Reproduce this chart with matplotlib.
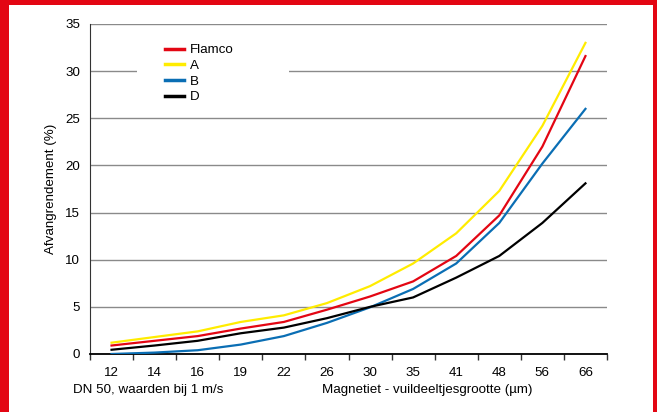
import numpy as np
import matplotlib.pyplot as plt
from matplotlib.patches import Rectangle

plt.rcParams['font.family'] = ['Liberation Sans', 'DejaVu Sans']

# data
sizes = ["12", "14", "16", "19", "22", "26", "30", "35", "41", "48", "56", "66"]
flamco = [0.9, 1.4, 1.9, 2.7, 3.4, 4.7, 6.1, 7.7, 10.4, 14.7, 22.0, 31.6]
serie_a = [1.2, 1.8, 2.4, 3.4, 4.1, 5.4, 7.2, 9.6, 12.8, 17.3, 24.2, 33.0]
serie_b = [0.0, 0.15, 0.4, 1.0, 1.9, 3.3, 4.95, 6.9, 9.6, 13.9, 20.2, 26.0]
serie_d = [0.45, 0.9, 1.4, 2.2, 2.8, 3.8, 5.0, 6.0, 8.1, 10.4, 13.9, 18.1]

fs = 9.6
W, H = 657, 412
fig = plt.figure(figsize=(W/100, H/100), dpi=100)
fig.patch.set_facecolor('#e30613')
# white panel inside red border
fig.patches.append(Rectangle((9/W, 0), (653-9)/W, (H-5)/H, transform=fig.transFigure,
                             facecolor='white', edgecolor='none', zorder=-1))

ax = fig.add_axes([90/W, (H-354)/H, (607-90)/W, (354-24)/H])
ax.set_facecolor('none')
ax.set_zorder(2)

x = np.arange(len(sizes))
ax.plot(x, flamco, color='#e30613', lw=1.6, label='Flamco', zorder=3)
ax.plot(x, serie_a, color='#ffec00', lw=1.6, label='A', zorder=3)
ax.plot(x, serie_b, color='#0a6eb4', lw=1.6, label='B', zorder=3)
ax.plot(x, serie_d, color='black', lw=1.6, label='D', zorder=3)

ax.set_xlim(-0.5, len(sizes) - 0.5)
ax.set_ylim(0, 35)
ax.set_yticks(np.arange(0, 36, 5))
ax.yaxis.grid(True, color='#8a8a8a', lw=1)
ax.set_axisbelow(True)

# white block behind the legend that breaks the 30 gridline
ax.add_patch(Rectangle(((137-90)/517, (354-106)/330), (289-137)/517, (106-38)/330,
                       transform=ax.transAxes, facecolor='white', edgecolor='none', zorder=1.5))

ax.set_xticks(x)
ax.set_xticklabels(sizes)
ax.set_xticks(np.arange(-0.5, len(sizes), 1), minor=True)
ax.tick_params(axis='x', which='major', length=0, pad=9, labelsize=fs)
ax.tick_params(axis='x', which='minor', length=4, width=1, color='#333333')
ax.tick_params(axis='y', length=0, pad=7, labelsize=fs)

for s in ['top', 'right']:
    ax.spines[s].set_visible(False)
ax.spines['left'].set_color('#333333')
ax.spines['bottom'].set_color('black')
ax.spines['bottom'].set_linewidth(1.3)

ax.set_ylabel("Afvangrendement (%)", fontsize=fs, labelpad=6)

leg = ax.legend(loc='upper left', bbox_to_anchor=((165-90)/517, 1 - (44-24)/330), frameon=False,
                fontsize=fs, handlelength=1.45, handletextpad=0.4, labelspacing=0.25,
                borderpad=0, borderaxespad=0)
for ln in leg.get_lines():
    ln.set_linewidth(2.5)

fig.text(73/W, 1 - 390/H, "DN 50, waarden bij 1 m/s", fontsize=fs, va='center')
fig.text(322/W, 1 - 390/H, "Magnetiet - vuildeeltjesgrootte (µm)", fontsize=fs, va='center')

fig.savefig("out.png", dpi=100, facecolor=fig.get_facecolor())
